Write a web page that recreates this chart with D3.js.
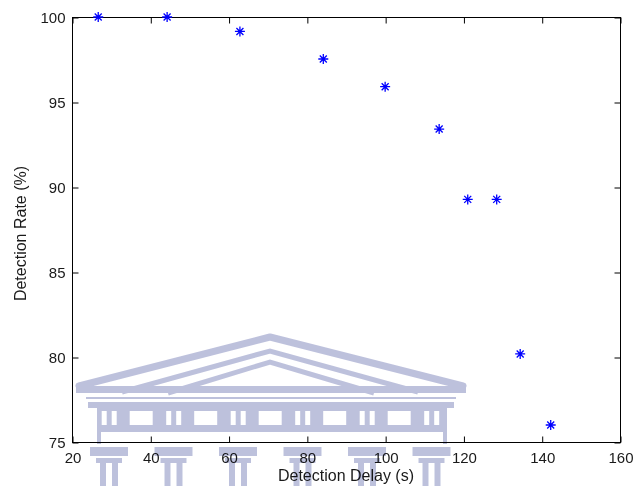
<!DOCTYPE html>
<html>
<head>
<meta charset="utf-8">
<script src="https://cdn.jsdelivr.net/npm/d3@7"></script>
<style>
  body { margin: 0; background: #fff; }
  svg { display: block; }
  text { font-family: "Liberation Sans", Arial, sans-serif; fill: #1a1a1a; }
</style>
</head>
<body>
<div id="chart"></div>
<script>
// values
var delay = [26.7, 44.3, 62.9, 84.2, 100.0, 113.8, 121.1, 128.5, 134.5, 142.3];
var rate  = [100, 100, 99.15, 97.53, 95.9, 93.41, 89.27, 89.27, 80.18, 76.0];
var xTicks = [20, 40, 60, 80, 100, 120, 140, 160];
var yTicks = [75, 80, 85, 90, 95, 100];
var xTitle = "Detection Delay (s)";
var yTitle = "Detection Rate (%)";

var W = 635, H = 486;
var m = {left: 72, right: 15, top: 17, bottom: 44};

var svg = d3.select("#chart").append("svg")
    .attr("width", W).attr("height", H);

var x = d3.scaleLinear().domain([20, 160]).range([m.left, W - m.right]);
var y = d3.scaleLinear().domain([75, 100]).range([H - m.bottom, m.top]);

// box
svg.append("rect")
    .attr("x", x(20) + 0.5).attr("y", y(100) + 0.5)
    .attr("width", x(160) - x(20)).attr("height", y(75) - y(100))
    .attr("fill", "none").attr("stroke", "#000").attr("stroke-width", 1);

function styleAxis(g) {
    g.select(".domain").remove();
    g.selectAll(".tick line").attr("stroke", "#000");
    g.selectAll("text").attr("fill", "#1a1a1a").style("font-size", "15px")
      .style("font-family", "'Liberation Sans', Arial, sans-serif");
}

svg.append("g")
    .attr("transform", "translate(0.5," + (y(75) + 0.5) + ")")
    .call(d3.axisBottom(x).tickValues(xTicks).tickSizeInner(-6).tickSizeOuter(0).tickPadding(10))
    .call(styleAxis);

svg.append("g")
    .attr("transform", "translate(0.5," + (y(100) + 0.5) + ")")
    .call(d3.axisTop(x).tickValues(xTicks).tickSizeInner(-6).tickSizeOuter(0).tickFormat(""))
    .call(styleAxis);

svg.append("g")
    .attr("transform", "translate(" + (x(20) + 0.5) + ",0.5)")
    .call(d3.axisLeft(y).tickValues(yTicks).tickSizeInner(-6).tickSizeOuter(0).tickPadding(7))
    .call(styleAxis);

svg.append("g")
    .attr("transform", "translate(" + (x(160) + 0.5) + ",0.5)")
    .call(d3.axisRight(y).tickValues(yTicks).tickSizeInner(-6).tickSizeOuter(0).tickFormat(""))
    .call(styleAxis);

// axis titles
svg.append("text")
    .attr("x", (x(20) + x(160)) / 2).attr("y", 481)
    .attr("text-anchor", "middle").style("font-size", "16px")
    .text(xTitle);

svg.append("text")
    .attr("transform", "translate(26," + ((y(75) + y(100)) / 2 + 4) + ") rotate(-90)")
    .attr("text-anchor", "middle").style("font-size", "16px")
    .text(yTitle);

// matlab style '*' markers
function star(r) {
    var d = r * 0.7;
    return "M0," + (-r) + "V" + r + "M" + (-r) + ",0H" + r +
        "M" + (-d) + "," + (-d) + "L" + d + "," + d +
        "M" + (-d) + "," + d + "L" + d + "," + (-d);
}

var pts = delay.map(function(d, i) { return {x: d, y: rate[i]}; });

svg.append("g").selectAll("path").data(pts).enter().append("path")
    .attr("transform", function(d) { return "translate(" + x(d.x) + "," + y(d.y) + ")"; })
    .attr("d", star(5))
    .attr("fill", "none").attr("stroke", "#0000ff").attr("stroke-width", 1.3);

// faded building watermark over the bottom of the plot
var wm = svg.append("g")
    .style("mix-blend-mode", "multiply")
    .attr("opacity", 0.72);
var wc = "#a4a9cf";

function bar(x0, y0, w, h) {
    wm.append("rect").attr("x", x0).attr("y", y0).attr("width", w).attr("height", h).attr("fill", wc);
}

// pediment, three chevrons
wm.append("polyline")
    .attr("points", "79,386 270,337 463,386")
    .attr("fill", "none").attr("stroke", wc).attr("stroke-width", 7)
    .attr("stroke-linejoin", "round").attr("stroke-linecap", "round");
wm.append("polyline")
    .attr("points", "122,392 270,351 418,392")
    .attr("fill", "none").attr("stroke", wc).attr("stroke-width", 5);
wm.append("polyline")
    .attr("points", "168,393 270,362 374,393")
    .attr("fill", "none").attr("stroke", wc).attr("stroke-width", 5);
bar(76, 386, 390, 7);
bar(86, 397, 370, 2);
bar(88, 402, 366, 6);

// frieze with metopes and triglyphs
bar(97, 408, 350, 24);
d3.range(6).forEach(function(i) {
    var bx = 101.7 + i * 64.5;
    [0, 10].forEach(function(o) {
        wm.append("rect").attr("x", bx + o).attr("y", 411).attr("width", 5).attr("height", 14).attr("fill", "#fff");
    });
    if (i < 5) {
        wm.append("rect").attr("x", bx + 28).attr("y", 411).attr("width", 23).attr("height", 14).attr("fill", "#fff");
    }
});
bar(97, 432, 4, 12);
bar(443, 432, 4, 12);

// capitals and columns below the axis
d3.range(6).forEach(function(i) {
    var cx = 100 + i * 64.5;
    bar(cx - 10, 447, 38, 9);
    bar(cx - 4, 458, 26, 5);
    [0, 12].forEach(function(o) {
        bar(cx + o, 463, 6, 23);
    });
});
</script>
</body>
</html>
